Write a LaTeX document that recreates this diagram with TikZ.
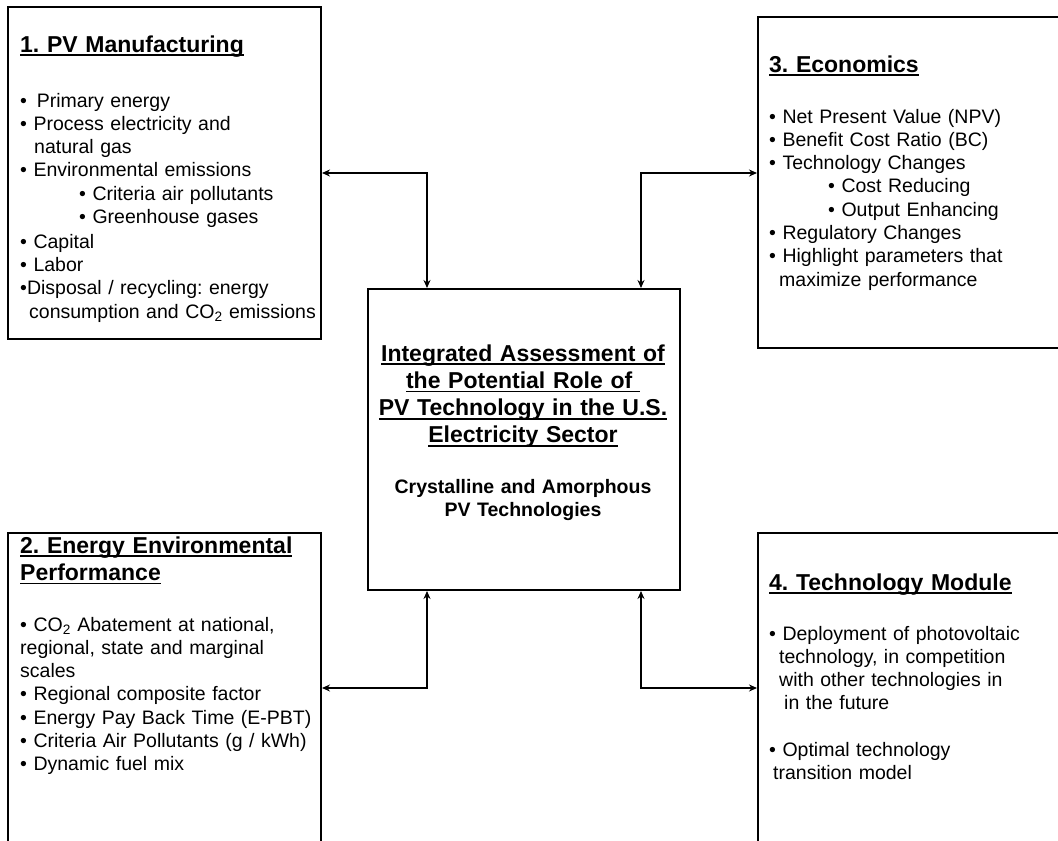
\documentclass[tikz,border=0pt]{standalone}
\usepackage{fontspec}
\setmainfont{Liberation Sans}
\usepackage{tikz}
\usetikzlibrary{arrows.meta}
\usetikzlibrary{positioning}
\frenchspacing
\newcommand{\souligne}[1]{\leavevmode\setbox0\hbox{#1}\rlap{\rule[-4pt]{\wd0}{1.8pt}}\box0}
\tikzstyle{boite}=[draw,rectangle,line width=2pt,anchor=north west,inner sep=0pt]
\tikzstyle{titre}=[anchor=base west,inner sep=0pt,text width=330pt,align=left,
        font={\fontsize{23}{27.3}\selectfont\bfseries}]
\tikzstyle{texte}=[anchor=base west,inner sep=0pt,text width=330pt,align=left,
        font={\fontsize{19.5}{23.3}\selectfont}]
\tikzstyle{lien}=[<->,>={Stealth[length=8pt,width=7pt]},line width=1.3pt]
\begin{document}
\begin{tikzpicture}[x=1pt,y=-1pt]
\useasboundingbox (0,0) rectangle (1058,841);
\clip (0,0) rectangle (1058,841);
%boites
\node[boite,minimum width=313pt,minimum height=332pt] (manuf) at (7,6) {};
\node[boite,minimum width=312pt,minimum height=301pt] (centre) at (367,288) {};
\node[boite,minimum width=320pt,minimum height=331pt] (eco) at (757,16) {};
\node[boite,minimum width=313pt,minimum height=340pt] (perf) at (7,532) {};
\node[boite,minimum width=320pt,minimum height=340pt] (module) at (757,532) {};
%textes
\node[titre] (tmanuf) at (20,52) {\souligne{1. PV Manufacturing}};
\node[texte] (lmanuf) at (20,107) {• \,Primary energy\\
• Process electricity and\\
\hspace*{14pt}natural gas\\
• Environmental emissions\\
\hspace*{59pt}• Criteria air pollutants\\
\hspace*{59pt}• Greenhouse gases\\[1.5pt]
• Capital\\
• Labor\\
•Disposal / recycling: energy\\
\hspace*{9pt}consumption and CO\textsubscript{2} emissions};
\node[titre] (tperf) at (20,553) {\souligne{2. Energy Environmental}\\
\souligne{Performance}};
\node[texte] (lperf) at (20,631) {• CO\textsubscript{2} Abatement at national,\\
regional, state and marginal\\
scales\\
• Regional composite factor\\
• Energy Pay Back Time (E-PBT)\\
• Criteria Air Pollutants (g / kWh)\\
• Dynamic fuel mix};
\node[titre] (teco) at (769,72) {\souligne{3. Economics}};
\node[texte] (leco) at (769,123) {• Net Present Value (NPV)\\
• Benefit Cost Ratio (BC)\\
• Technology Changes\\
\hspace*{59pt}• Cost Reducing\\
\hspace*{59pt}• Output Enhancing\\
• Regulatory Changes\\
• Highlight parameters that\\
\hspace*{10pt}maximize performance};
\node[titre] (tmodule) at (769,590) {\souligne{4. Technology Module}};
\node[texte] (lmodule) at (769,640) {• Deployment of photovoltaic\\
\hspace*{10pt}technology, in competition\\
\hspace*{10pt}with other technologies in\\
\hspace*{15pt}in the future\\[23.3pt]
• Optimal technology\\
\hspace*{4pt}transition model};
\node[titre,anchor=base,text width=310pt,align=center] (tcentre) at (523,361)
  {\souligne{Integrated Assessment of}\\
   \souligne{the Potential Role of }\\
   \souligne{PV Technology in the U.S.}\\
   \souligne{Electricity Sector}};
\node[texte,anchor=base,text width=310pt,align=center,font={\fontsize{19.5}{23.3}\selectfont\bfseries}]
  (scentre) at (523,493) {Crystalline and Amorphous\\PV Technologies};
%fleches
\coordinate (hg) at (427,173);
\coordinate (hd) at (641,173);
\coordinate (bg) at (427,688);
\coordinate (bd) at (641,688);
\draw[lien] (manuf.east |- hg) -- (hg) -- (hg |- centre.north);
\draw[lien] (eco.west |- hd) -- (hd) -- (hd |- centre.north);
\draw[lien] (perf.east |- bg) -- (bg) -- (bg |- centre.south);
\draw[lien] (module.west |- bd) -- (bd) -- (bd |- centre.south);
\end{tikzpicture}
\end{document}
